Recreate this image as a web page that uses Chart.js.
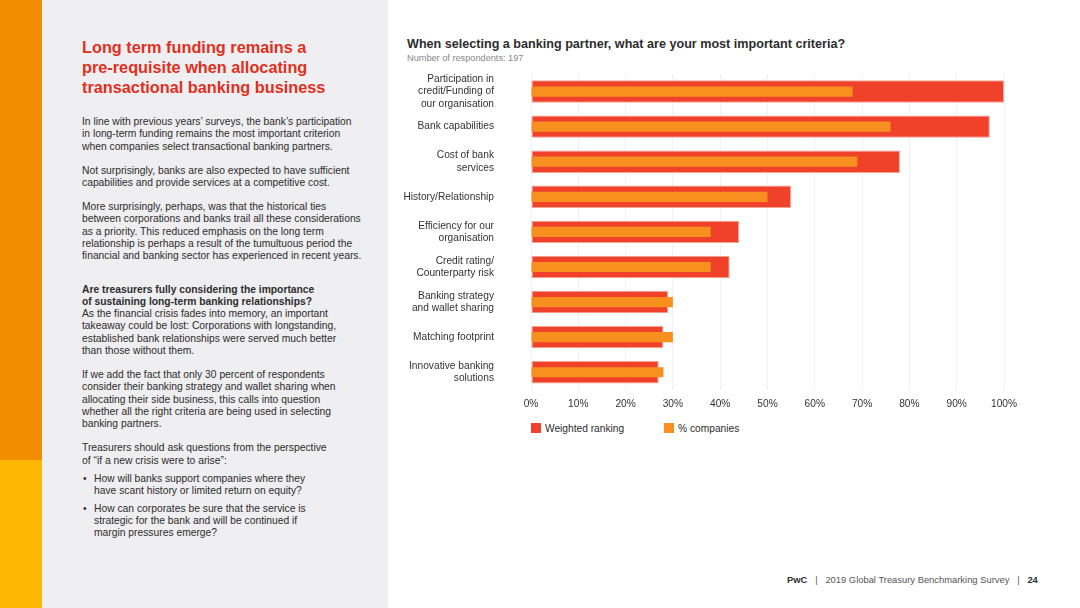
<!DOCTYPE html>
<html>
<head>
<meta charset="utf-8">
<script src="https://cdn.jsdelivr.net/npm/chart.js@4"></script>
<style>
  html, body { margin: 0; padding: 0; }
  body { width: 1080px; height: 608px; position: relative; overflow: hidden; background: #fff; font-family: "Liberation Sans", Arial, sans-serif; color: #2d2d2d; }
  .strip-top { position: absolute; left: 0; top: 0; width: 42px; height: 460px; background: #f28c00; }
  .strip-bottom { position: absolute; left: 0; top: 460px; width: 42px; height: 148px; background: #ffb600; }
  .panel { position: absolute; left: 42px; top: 0; width: 346px; height: 608px; background: #efeef0; }
  .text { position: absolute; left: 82px; top: 37px; width: 300px; }
  h1 { margin: 0 0 19px 0; font-size: 16.3px; line-height: 20px; color: #e0301e; font-weight: bold; }
  p { margin: 0 0 11.8px 0; font-size: 10.3px; line-height: 12.3px; }
  ul { margin: 0; padding: 0; list-style: none; }
  li { position: relative; padding-left: 12px; font-size: 10.3px; line-height: 12.3px; margin-bottom: 5.5px; }
  li::before { content: "\2022"; position: absolute; left: 1px; }
  .title { position: absolute; left: 407px; top: 37px; font-size: 12.6px; font-weight: bold; color: #2d2d2d; }
  .sub { position: absolute; left: 407px; top: 53px; font-size: 9.2px; color: #888; }
  .chartbox { position: absolute; left: 400px; top: 70px; width: 640px; height: 348px; }
  .legend { position: absolute; top: 423px; left: 531px; font-size: 10.2px; color: #2d2d2d; white-space: nowrap; }
  .legend span.sw { display: inline-block; width: 10px; height: 10px; vertical-align: -1px; margin-right: 4px; }
  .footer { position: absolute; top: 574px; left: 787px; font-size: 9.4px; color: #555; white-space: pre; }
  .footer b { color: #2d2d2d; }
</style>
</head>
<body>
<div class="strip-top"></div>
<div class="strip-bottom"></div>
<div class="panel"></div>
<div class="text">
  <h1>Long term funding remains a<br>pre-requisite when allocating<br>transactional banking business</h1>
  <p>In line with previous years’ surveys, the bank’s participation<br>in long-term funding remains the most important criterion<br>when companies select transactional banking partners.</p>
  <p>Not surprisingly, banks are also expected to have sufficient<br>capabilities and provide services at a competitive cost.</p>
  <p>More surprisingly, perhaps, was that the historical ties<br>between corporations and banks trail all these considerations<br>as a priority. This reduced emphasis on the long term<br>relationship is perhaps a result of the tumultuous period the<br>financial and banking sector has experienced in recent years.</p>
  <p style="margin-top:21px"><b>Are treasurers fully considering the importance<br>of sustaining long-term banking relationships?</b><br>As the financial crisis fades into memory, an important<br>takeaway could be lost: Corporations with longstanding,<br>established bank relationships were served much better<br>than those without them.</p>
  <p>If we add the fact that only 30 percent of respondents<br>consider their banking strategy and wallet sharing when<br>allocating their side business, this calls into question<br>whether all the right criteria are being used in selecting<br>banking partners.</p>
  <p style="margin-bottom:5.5px">Treasurers should ask questions from the perspective<br>of “if a new crisis were to arise”:</p>
  <ul>
    <li>How will banks support companies where they<br>have scant history or limited return on equity?</li>
    <li>How can corporates be sure that the service is<br>strategic for the bank and will be continued if<br>margin pressures emerge?</li>
  </ul>
</div>

<div class="title">When selecting a banking partner, what are your most important criteria?</div>
<div class="sub">Number of respondents: 197</div>
<div class="chartbox"><canvas id="criteriaChart"></canvas></div>
<div class="legend">
  <span class="sw" style="background:#f0412a"></span>Weighted ranking<span class="sw" style="background:#f7901e; margin-left:40px"></span>% companies
</div>
<div class="footer"><b>PwC</b>   |   2019 Global Treasury Benchmarking Survey   |   <b>24</b></div>

<script>
// Chart data
const categories = [
    ['Participation in', 'credit/Funding of', 'our organisation'],
    'Bank capabilities',
    ['Cost of bank', 'services'],
    'History/Relationship',
    ['Efficiency for our', 'organisation'],
    ['Credit rating/', 'Counterparty risk'],
    ['Banking strategy', 'and wallet sharing'],
    'Matching footprint',
    ['Innovative banking', 'solutions']
];
const weightedRanking = [100, 97, 78, 55, 44, 42, 29, 28, 27];
const pctCompanies = [68, 76, 69, 50, 38, 38, 30, 30, 28];
const xTicks = [0, 10, 20, 30, 40, 50, 60, 70, 80, 90, 100];

const ctx = document.getElementById('criteriaChart');

new Chart(ctx, {
    type: 'bar',
    data: {
        labels: categories,
        datasets: [{
            label: 'Weighted ranking',
            data: weightedRanking,
            backgroundColor: '#f0412a',
            borderColor: '#f8a394',
            borderWidth: 1,
            borderSkipped: false,
            grouped: false,
            barPercentage: 0.64,
            categoryPercentage: 1,
            order: 1
        }, {
            label: '% companies',
            data: pctCompanies,
            backgroundColor: '#f7901e',
            borderWidth: 0,
            grouped: false,
            barPercentage: 0.29,
            categoryPercentage: 1,
            order: 0
        }]
    },
    options: {
        indexAxis: 'y',
        responsive: true,
        maintainAspectRatio: false,
        animation: false,
        layout: { padding: { top: 4, right: 36, left: 0, bottom: 0 } },
        plugins: {
            legend: { display: false },
            tooltip: { enabled: false }
        },
        scales: {
            x: {
                min: 0,
                max: 100,
                afterBuildTicks: function(axis) {
                    axis.ticks = xTicks.map(v => ({ value: v }));
                },
                border: { display: false },
                grid: { color: '#f1f0f2', drawTicks: false },
                ticks: {
                    padding: 8,
                    color: '#333',
                    font: { family: 'Liberation Sans', size: 10.2 },
                    callback: v => v + '%'
                }
            },
            y: {
                // fixed label column; tick padding would otherwise also pad top/bottom
                afterFit: function(axis) {
                    axis.width = 131;
                    axis.paddingTop = 0;
                    axis.paddingBottom = 0;
                },
                border: { display: false },
                grid: { display: false, drawTicks: false },
                ticks: {
                    autoSkip: false,
                    padding: 37,
                    color: '#333',
                    font: { family: 'Liberation Sans', size: 10.2, lineHeight: 1.2 }
                }
            }
        }
    }
});
</script>
</body>
</html>
